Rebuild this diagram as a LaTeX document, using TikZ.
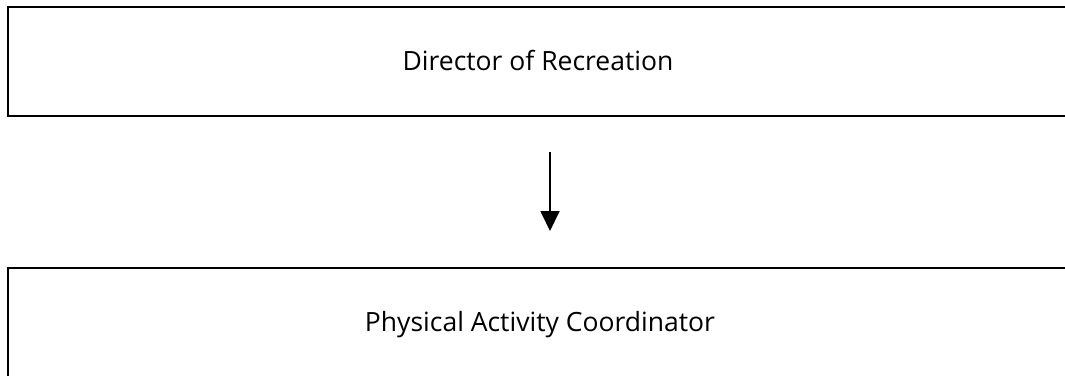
\documentclass[tikz,border=0pt]{standalone}
\usepackage{fontspec}
\setmainfont{Open Sans}
\usetikzlibrary{arrows.meta}
\begin{document}
\begin{tikzpicture}[x=1pt,y=-1pt,
  box/.style={draw=black,line width=2.2pt,rectangle,inner sep=0pt,anchor=north west},
  lbl/.style={font=\fontsize{26.5}{32}\selectfont,inner sep=0pt,anchor=base},
  conn/.style={line width=1.8pt,-{Triangle[width=19pt,length=20pt]}}]
\useasboundingbox[fill=white] (0,0) rectangle (1065,375);
\node[box,minimum width=1070pt,minimum height=109pt] (top) at (7,6) {};
\node[box,minimum width=1070pt,minimum height=140pt] (bot) at (7,267) {};
\node[lbl] (t1) at (538,70) {Director of Recreation};
\node[lbl] (t2) at (540,331) {Physical Activity Coordinator};
\coordinate (a1) at (550,152);
\coordinate (a2) at (550,231);
\draw[conn] (a1) -- (a2);
\end{tikzpicture}
\end{document}
